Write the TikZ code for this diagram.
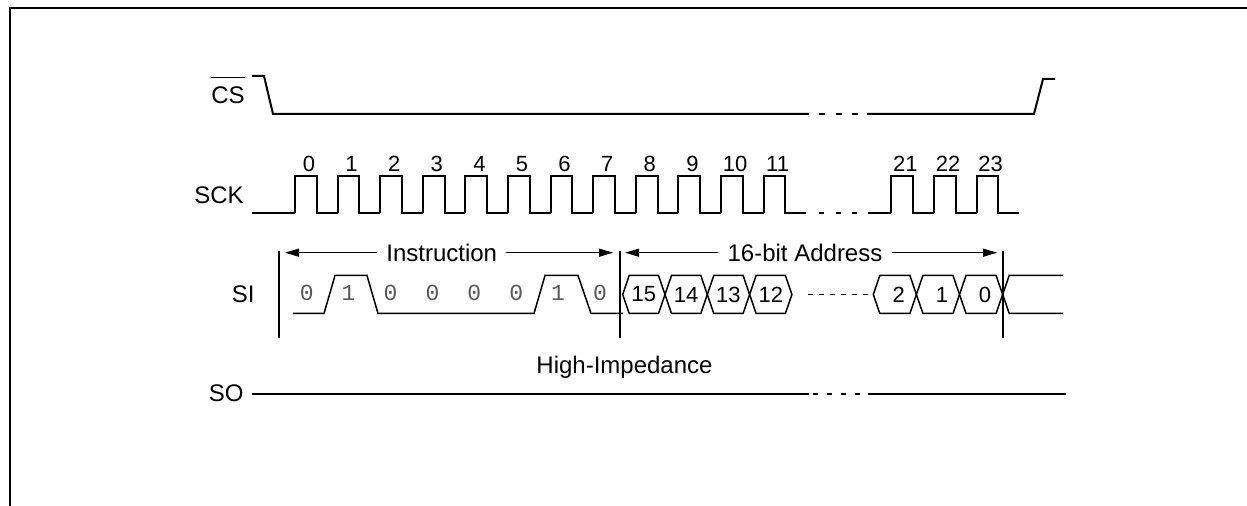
\documentclass[tikz,border=0pt]{standalone}
\usepackage{fontspec}
\setmainfont{Liberation Sans}
\newfontfamily\monobits{Liberation Mono}
\usetikzlibrary{arrows.meta}

\begin{document}
\begin{tikzpicture}[x=0.5pt,y=-0.5pt,
		wave/.style={line width=1pt},
		thinwave/.style={line width=0.75pt},
		lab/.style={inner sep=0pt,font=\fontsize{12}{14}\selectfont},
		num/.style={inner sep=0pt,font=\fontsize{11}{13}\selectfont},
		bit/.style={inner sep=0pt,text=black!65,font=\monobits\fontsize{11.5}{13}\selectfont},
		>={Triangle[length=7pt,width=4pt]}]
	\useasboundingbox (0,0) rectangle (1247,506);
	\draw[line width=1.15pt] (1247,8) -- (10,8) -- (10,506);
	
	% cs
	
	\node[lab,anchor=base east] (CS) at (245,104) {CS};
	\draw[line width=0.65pt] ([yshift=4.5pt]CS.north west) -- ([yshift=4.5pt]CS.north east);
	\draw[wave] (252,76) -- (264,76) -- (273,114) -- (809,114);
	\foreach \x in {819,836,852}
		\draw[wave] (\x,114) -- ++(6,0);
	\draw[wave] (867,114) -- (1034,114) -- (1043,79) -- (1055,79);
	
	% sck
	
	\node[lab,anchor=base east] (SCK) at (244,204) {SCK};
	\draw[wave] (252,213) -- (295,213);
	\draw[wave] (868,213) -- (891.4,213);
	\foreach \k in {0,...,11,21,22,23} {
		\pgfmathtruncatemacro{\p}{\k>20 ? \k-7 : \k}
		\pgfmathsetmacro{\r}{295+42.6*\p}
		\draw[wave] (\r,213) -- (\r,176) -- ++(21.7,0) -- ++(0,37) -- ++(20.9,0);
		\node[num,anchor=base] (C\k) at (\r+14,171.5) {\k};
	}
	\foreach \x in {819,836,852}
		\draw[wave] (\x,213) -- ++(5,0);
	
	% si
	
	\node[lab,anchor=base east] (SI) at (255,303) {SI};
	\foreach \x in {279,620,1003}
		\draw[wave] (\x,251) -- (\x,338);
	\draw[thinwave] (293,313.5) -- (324,313.5) -- (335,275.5) -- (367,275.5) -- (378,313.5)
		-- (534,313.5) -- (545,275.5) -- (578,275.5) -- (591,313.5) -- (623,313.5);
	\foreach \b [count=\i from 0] in {0,1,0,0,0,0,1,0}
		\node[bit] (B\i) at (306.7+41.9*\i,293) {\b};
	
	\foreach \t [count=\i from 0] in {15,14,13,12} {
		\pgfmathsetmacro{\a}{622.7+42.3*\i}
		\pgfmathsetmacro{\b}{\a+42.3}
		\draw[thinwave] (\a,294.5) -- (\a+6.5,275.5) -- (\b-6.5,275.5) -- (\b,294.5)
			-- (\b-6.5,313.5) -- (\a+6.5,313.5) -- cycle;
		\node[num] (A\t) at (\a/2+\b/2,294.5) {\t};
	}
	\foreach \x in {808,819,...,863}
		\draw[thinwave] (\x,294.5) -- ++(5,0);
	\foreach \t [count=\i from 0] in {2,1,0} {
		\pgfmathsetmacro{\a}{873.3+43.1*\i}
		\pgfmathsetmacro{\b}{\a+43.1}
		\draw[thinwave] (\a,294.5) -- (\a+6.5,275.5) -- (\b-6.5,275.5) -- (\b,294.5)
			-- (\b-6.5,313.5) -- (\a+6.5,313.5) -- cycle;
		\node[num] (A\t) at (\a/2+\b/2+4,294.5) {\t};
	}
	\draw[thinwave] (1063,275.5) -- (1009.2,275.5) -- (1002.7,294.5) -- (1009.2,313.5) -- (1063,313.5);
	
	% fields
	
	\node[lab,inner xsep=4.5pt] (INS) at (441.7,252.7) {Instruction};
	\coordinate (INSa) at (285,252.7);
	\coordinate (INSb) at (613,252.7);
	\draw[->,line width=0.65pt] (INS) -- (INSa);
	\draw[->,line width=0.65pt] (INS) -- (INSb);
	
	\node[lab,inner xsep=4.5pt] (ADR) at (805,252.7) {16-bit Address};
	\coordinate (ADRa) at (625,252.7);
	\coordinate (ADRb) at (997,252.7);
	\draw[->,line width=0.65pt] (ADR) -- (ADRa);
	\draw[->,line width=0.65pt] (ADR) -- (ADRb);
	
	% so
	
	\node[lab,anchor=base east] (SO) at (244,401.7) {SO};
	\node[lab,anchor=base] (HZ) at (624.5,373.3) {High-Impedance};
	\draw[wave] (252,393.7) -- (809,393.7);
	\foreach \x in {813,827,841,855,868}
		\draw[wave] (\x,393.7) -- ++(4.5,0);
	\draw[wave] (873.3,393.7) -- (1066,393.7);
\end{tikzpicture}
\end{document}
